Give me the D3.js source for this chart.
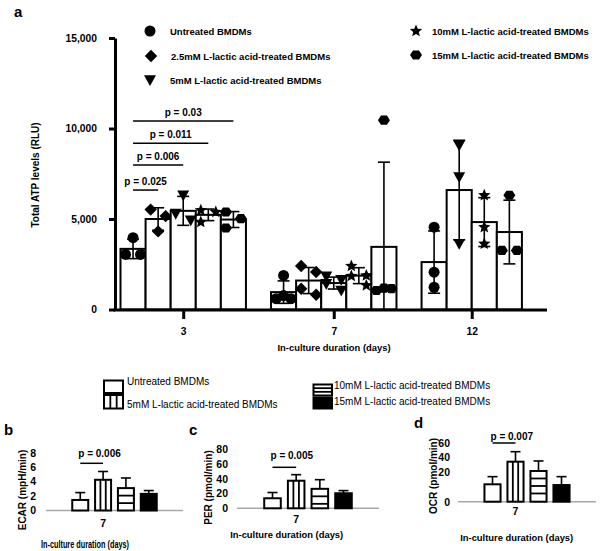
<!DOCTYPE html>
<html><head><meta charset="utf-8">
<script src="https://cdn.jsdelivr.net/npm/d3@7"></script>
<style>
body{margin:0;background:#fff}
svg{display:block}
text{font-family:"Liberation Sans", Arial, Helvetica, sans-serif;fill:#000}
</style>
</head><body>
<svg id="chart" width="600" height="551"></svg>
<script>
// ================= DATA =================
const days = ["3", "7", "12"];
const seriesKeys = ["untreated", "mM2_5", "mM5", "mM10", "mM15"];
const seriesLabels = ["Untreated BMDMs", "2.5mM L-lactic acid-treated BMDMs", "5mM L-lactic acid-treated BMDMs", "10mM L-lactic acid-treated BMDMs", "15mM L-lactic acid-treated BMDMs"];

// Total ATP (RLU) per day [3, 7, 12]
const untreatedMean = [3350, 960, 2620];
const untreatedSD = [540, 620, 1720];
const untreatedPoints = [[3970, 3040, 3040], [1880, 600, 770, 600], [4550, 2060, 1230]];
const mM2_5Mean = [5000, 1600, null];
const mM2_5SD = [620, 720, null];
const mM2_5Points = [[5520, 5160, 4316], [2400, 2070, 1150, 815], []];
const mM5Mean = [5450, 1460, 6600];
const mM5SD = [800, 330, 2750];
const mM5Points = [[6310, 5295, 4925], [1830, 1640, 1420, 1050], [9075, 7320, 3630]];
const mM10Mean = [5230, 1870, 4830];
const mM10SD = [320, 440, 1350];
const mM10Points = [[5480, 5385, 4830], [2400, 1880, 1850, 1330], [6310, 4550, 3630]];
const mM15Mean = [4970, 3460, 4280];
const mM15SD = [440, 4680, 1760];
const mM15Points = [[5385, 5020, 4500], [10460, 1050, 1180, 1150], [6310, 3265, 3265]];
const atpTicks = [0, 5000, 10000, 15000];

// significance brackets, day 3, vs untreated
const pLabels = ["p = 0.025", "p = 0.006", "p = 0.011", "p = 0.03"];
const pVs = ["mM2_5", "mM5", "mM10", "mM15"];
const pLevels = [6600, 7980, 9180, 10410];

// panels b-d (day 7)
const panelKeys = ["untreated", "mM5", "mM10", "mM15"];
const panelLegend = ["Untreated BMDMs", "5mM L-lactic acid-treated BMDMs", "10mM L-lactic acid-treated BMDMs", "15mM L-lactic acid-treated BMDMs"];
const ecarMean = [1.46, 4.25, 3.1, 2.3];
const ecarSD = [1.02, 1.15, 1.4, 0.46];
const ecarTicks = [0, 2, 4, 6, 8];
const perMean = [13.6, 37.4, 26.4, 20.4];
const perSD = [7.8, 8.2, 12.4, 3.6];
const perTicks = [0, 20, 40, 60, 80];
const ocrMean = [11.6, 33.8, 21.0, 11.1];
const ocrSD = [5.1, 13.8, 13.8, 5.6];
const ocrTicks = [0, 20, 40, 60];

// ================= SETUP =================
const svg = d3.select("#chart");
const meanBySeries = [untreatedMean, mM2_5Mean, mM5Mean, mM10Mean, mM15Mean];
const sdBySeries = [untreatedSD, mM2_5SD, mM5SD, mM10SD, mM15SD];
const ptsBySeries = [untreatedPoints, mM2_5Points, mM5Points, mM10Points, mM15Points];

// custom marker shapes (size = radius)
const shapes = {
  untreated: {draw(c, r){ c.moveTo(r, 0); c.arc(0, 0, r, 0, 2 * Math.PI); }},
  mM2_5: {draw(c, r){ c.moveTo(0, -r); c.lineTo(r, 0); c.lineTo(0, r); c.lineTo(-r, 0); c.closePath(); }},
  mM5: {draw(c, r){ c.moveTo(-r, -0.8 * r); c.lineTo(r, -0.8 * r); c.lineTo(0, r); c.closePath(); }},
  mM10: {draw(c, r){
    for (let i = 0; i < 10; i++) {
      const a = -Math.PI / 2 + i * Math.PI / 5, rr = i % 2 ? r * 0.45 : r;
      const x = rr * Math.cos(a), y = rr * Math.sin(a);
      i ? c.lineTo(x, y) : c.moveTo(x, y);
    }
    c.closePath();
  }},
  mM15: {draw(c, r){
    for (let i = 0; i < 6; i++) {
      const a = i * Math.PI / 3, x = r * Math.cos(a), y = r * Math.sin(a) * 0.88;
      i ? c.lineTo(x, y) : c.moveTo(x, y);
    }
    c.closePath();
  }}
};
const shapeR = {untreated: 5.5, mM2_5: 6.2, mM5: 6, mM10: 6.5, mM15: 6};
const sym = k => d3.symbol().type(shapes[k]).size(shapeR[k])();

// ================= PANEL A =================
const y = d3.scaleLinear().domain([0, 15000]).range([309.5, 38]);

const bars = [];
const slotDomain = [];
days.forEach((day, di) => {
  seriesKeys.forEach((k, si) => {
    const m = meanBySeries[si][di];
    if (m == null) return;
    const key = day + "|" + k;
    slotDomain.push(key);
    bars.push({day, key, series: k, mean: m, sd: sdBySeries[si][di], pts: ptsBySeries[si][di]});
  });
  slotDomain.push("gap" + di);
});
const xs = d3.scaleBand().domain(slotDomain).range([120.5, 547]).paddingInner(0).paddingOuter(0);
const bw = xs.bandwidth();

const gA = svg.append("g");
gA.selectAll("rect.bar").data(bars).join("rect")
  .attr("x", d => xs(d.key)).attr("y", d => y(d.mean))
  .attr("width", bw).attr("height", d => y(0) - y(d.mean))
  .attr("fill", "#fff").attr("stroke", "#000").attr("stroke-width", 2);

const eb = gA.selectAll("g.eb").data(bars).join("g");
eb.append("line")
  .attr("x1", d => xs(d.key) + bw / 2).attr("x2", d => xs(d.key) + bw / 2)
  .attr("y1", d => y(d.mean + d.sd)).attr("y2", d => y(Math.max(0, d.mean - d.sd)))
  .attr("stroke", "#000").attr("stroke-width", 1.6);
eb.append("line")
  .attr("x1", d => xs(d.key) + bw / 2 - 6).attr("x2", d => xs(d.key) + bw / 2 + 6)
  .attr("y1", d => y(d.mean + d.sd)).attr("y2", d => y(d.mean + d.sd))
  .attr("stroke", "#000").attr("stroke-width", 1.6);
eb.filter(d => d.mean - d.sd > 0).append("line")
  .attr("x1", d => xs(d.key) + bw / 2 - 6).attr("x2", d => xs(d.key) + bw / 2 + 6)
  .attr("y1", d => y(d.mean - d.sd)).attr("y2", d => y(d.mean - d.sd))
  .attr("stroke", "#000").attr("stroke-width", 1.6);

const dodgeD = 7.5;
function dodge(vals) {
  const offs = vals.map(() => 0);
  if (!vals.length) return offs;
  const idx = vals.map((v, i) => i).sort((a, b) => vals[b] - vals[a] || a - b);
  const clusters = [];
  let cur = [idx[0]];
  for (let k = 1; k < idx.length; k++) {
    if (y(vals[idx[k]]) - y(vals[idx[k - 1]]) < 11) cur.push(idx[k]);
    else { clusters.push(cur); cur = [idx[k]]; }
  }
  clusters.push(cur);
  clusters.forEach(c => {
    if (c.length === 1) return;
    const span = y(vals[c[c.length - 1]]) - y(vals[c[0]]);
    if (span < 5.5) {
      const s = c.slice().sort((a, b) => a - b), n = s.length;
      s.forEach((id, j) => offs[id] = (j - (n - 1) / 2) * (n === 2 ? 2 * dodgeD : dodgeD));
    } else {
      c.forEach((id, j) => offs[id] = j % 2 ? dodgeD : -dodgeD);
    }
  });
  return offs;
}
const pts = [];
bars.forEach(b => {
  const o = dodge(b.pts);
  b.pts.forEach((v, i) => pts.push({series: b.series, v, x: xs(b.key) + bw / 2 + o[i]}));
});
gA.selectAll("path.pt").data(pts).join("path")
  .attr("d", d => sym(d.series))
  .attr("transform", d => `translate(${d.x},${y(d.v)})`)
  .attr("fill", "#000");

const yAxis = d3.axisLeft(y).tickValues(atpTicks).tickFormat(d3.format(",")).tickSize(6).tickSizeOuter(0).tickPadding(12);
const gy = svg.append("g").attr("transform", "translate(115,0)").call(yAxis);
gy.select(".domain").attr("stroke-width", 3);
gy.selectAll(".tick line").attr("stroke-width", 3);
gy.selectAll(".tick text").attr("font-size", 10.3).attr("font-weight", "bold")
  .attr("font-family", '"Liberation Sans", Arial, sans-serif');

svg.append("line").attr("x1", 113.5).attr("x2", xs.range()[1]).attr("y1", y(0) + 0.5).attr("y2", y(0) + 0.5)
  .attr("stroke", "#000").attr("stroke-width", 3);

const dayCenters = days.map(day => d3.mean(bars.filter(b => b.day === day), b => xs(b.key) + bw / 2));
const xDay = d3.scaleOrdinal().domain(days).range(dayCenters);
const gx = svg.append("g").attr("transform", `translate(0,${y(0) + 0.5})`)
  .call(d3.axisBottom(xDay).tickSize(9).tickSizeOuter(0).tickPadding(9));
gx.select(".domain").remove();
gx.selectAll(".tick line").attr("stroke-width", 3);
gx.selectAll(".tick text").attr("font-size", 10.3).attr("font-weight", "bold")
  .attr("font-family", '"Liberation Sans", Arial, sans-serif');

svg.append("text").attr("x", 334).attr("y", 351).attr("text-anchor", "middle")
  .attr("font-size", 9.4).attr("font-weight", "bold").text("In-culture duration (days)");
svg.append("text").attr("transform", "translate(38.5,175) rotate(-90)").attr("text-anchor", "middle")
  .attr("font-size", 10).attr("font-weight", "bold").text("Total ATP levels (RLU)");
svg.append("text").attr("x", 14).attr("y", 17).attr("font-size", 15).attr("font-weight", "bold").text("a");

const uKey = "3|untreated";
pLabels.forEach((lab, i) => {
  const x1 = xs(uKey) + bw / 2, x2 = xs("3|" + pVs[i]) + bw / 2, yy = y(pLevels[i]);
  svg.append("line").attr("x1", x1).attr("x2", x2).attr("y1", yy).attr("y2", yy)
    .attr("stroke", "#000").attr("stroke-width", 1.5);
  svg.append("text").attr("x", (x1 + x2) / 2).attr("y", yy - 5).attr("text-anchor", "middle")
    .attr("font-size", 10).attr("font-weight", "bold").text(lab);
});

const legA = [
  {k: "untreated", x: 150, y: 31}, {k: "mM2_5", x: 151, y: 56}, {k: "mM5", x: 150, y: 80},
  {k: "mM10", x: 416, y: 31}, {k: "mM15", x: 416, y: 55}
];
legA.forEach(l => {
  svg.append("path").attr("d", sym(l.k)).attr("transform", `translate(${l.x},${l.y})`).attr("fill", "#000");
  svg.append("text").attr("x", l.x + (l.x > 300 ? 16 : 20)).attr("y", l.y + 4)
    .attr("font-size", 9.5).attr("font-weight", "bold")
    .text(seriesLabels[seriesKeys.indexOf(l.k)]);
});

// ================= LEGEND (panels b-d) =================
function patternBox(g, k, x, yy, w, h) {
  g.append("rect").attr("x", x).attr("y", yy).attr("width", w).attr("height", h)
    .attr("fill", k === "mM15" ? "#000" : "#fff").attr("stroke", "#000").attr("stroke-width", 2);
  if (k === "mM5") {
    [1, 2].forEach(j => g.append("line").attr("x1", x + w * j / 3).attr("x2", x + w * j / 3)
      .attr("y1", yy).attr("y2", yy + h).attr("stroke", "#000").attr("stroke-width", 1.8));
  }
  if (k === "mM10") {
    const step = h > 14 ? 7.5 : h / 3;
    for (let t = yy + step; t < yy + h - 2; t += step)
      g.append("line").attr("x1", x).attr("x2", x + w).attr("y1", t).attr("y2", t)
        .attr("stroke", "#000").attr("stroke-width", 1.8);
  }
}
const legB = [
  {k: "untreated", x: 104, y: 380.5, w: 19, h: 12.5, tx: 127, ty: 385},
  {k: "mM5", x: 104, y: 395, w: 19, h: 13.5, tx: 127, ty: 407.5},
  {k: "mM10", x: 313.5, y: 384.5, w: 18.5, h: 11, tx: 334, ty: 389},
  {k: "mM15", x: 313.5, y: 397.5, w: 18.5, h: 11, tx: 334, ty: 405}
];
legB.forEach(l => {
  patternBox(svg, l.k, l.x, l.y, l.w, l.h);
  svg.append("text").attr("x", l.tx).attr("y", l.ty).attr("font-size", 10)
    .text(panelLegend[panelKeys.indexOf(l.k)]);
});

// ================= PANELS b-d =================
function panel(cfg) {
  const g = svg.append("g");
  const yy = d3.scaleLinear().domain(cfg.domain).range(cfg.range);
  const xb = d3.scaleBand().domain(panelKeys).range([cfg.x0, cfg.x1]).paddingInner(0.3).paddingOuter(1.15);
  const w = xb.bandwidth();
  const data = panelKeys.map((k, i) => ({k, m: cfg.mean[i], sd: cfg.sd[i]}));
  g.append("line").attr("x1", cfg.x0).attr("x2", cfg.x1).attr("y1", yy(0)).attr("y2", yy(0))
    .attr("stroke", "#a8a8a8").attr("stroke-width", 1.5);
  data.forEach(d => {
    const cx = xb(d.k) + w / 2;
    g.append("line").attr("x1", cx).attr("x2", cx).attr("y1", yy(d.m)).attr("y2", yy(d.m + d.sd))
      .attr("stroke", "#000").attr("stroke-width", 1.6);
    g.append("line").attr("x1", cx - 5).attr("x2", cx + 5).attr("y1", yy(d.m + d.sd)).attr("y2", yy(d.m + d.sd))
      .attr("stroke", "#000").attr("stroke-width", 1.6);
  });
  data.forEach(d => patternBox(g, d.k, xb(d.k), yy(d.m), w, yy(0) - yy(d.m)));
  const ga = g.append("g").attr("transform", `translate(${cfg.x0},0)`)
    .call(d3.axisLeft(yy).tickValues(cfg.ticks).tickSize(0).tickPadding(cfg.pad));
  ga.select(".domain").remove();
  ga.selectAll("text").attr("font-size", 10.5).attr("font-weight", "bold")
    .attr("font-family", '"Liberation Sans", Arial, sans-serif');
  g.append("text").attr("x", xb("mM5") + w / 2).attr("y", cfg.dayY).attr("text-anchor", "middle")
    .attr("font-size", 10.5).attr("font-weight", "bold").text("7");
  const xl = g.append("text").attr("x", cfg.xlabX).attr("y", cfg.xlabY).attr("text-anchor", "middle")
    .attr("font-size", cfg.xlabSize).attr("font-weight", "bold").text("In-culture duration (days)");
  if (cfg.xlabLen) xl.attr("textLength", cfg.xlabLen).attr("lengthAdjust", "spacingAndGlyphs");
  g.append("text").attr("transform", `translate(${cfg.ylabX},${cfg.ylabY}) rotate(-90)`).attr("text-anchor", "middle")
    .attr("font-size", 10).attr("font-weight", "bold").text(cfg.ylab);
  const px1 = xb("untreated") + w / 2, px2 = xb("mM5") + w / 2;
  g.append("line").attr("x1", px1).attr("x2", px2).attr("y1", cfg.pY).attr("y2", cfg.pY)
    .attr("stroke", "#000").attr("stroke-width", 1.5);
  g.append("text").attr("x", px1 - 2).attr("y", cfg.pTextY).attr("font-size", 10).attr("font-weight", "bold").text(cfg.p);
  g.append("text").attr("x", cfg.letterX).attr("y", cfg.letterY).attr("font-size", 15).attr("font-weight", "bold").text(cfg.letter);
}

panel({letter: "b", letterX: 4, letterY: 435, domain: [0, 8], range: [510.5, 452.7], ticks: ecarTicks,
  mean: ecarMean, sd: ecarSD, x0: 46, x1: 183, pad: 10, dayY: 526.5, xlabX: 85, xlabY: 548, xlabSize: 10, xlabLen: 88,
  ylab: "ECAR (mpH/min)", ylabX: 25.5, ylabY: 490, p: "p = 0.006", pY: 463.3, pTextY: 456.5});
panel({letter: "c", letterX: 189, letterY: 435, domain: [0, 80], range: [508.3, 449.3], ticks: perTicks,
  mean: perMean, sd: perSD, x0: 237, x1: 379, pad: 9, dayY: 523, xlabX: 286.7, xlabY: 537.5, xlabSize: 9.4,
  ylab: "PER (pmol/min)", ylabX: 211.5, ylabY: 487.5, p: "p = 0.005", pY: 467.3, pTextY: 459});
panel({letter: "d", letterX: 414, letterY: 428, domain: [0, 20, 60], range: [501.7, 471.7, 442.7], ticks: ocrTicks,
  mean: ocrMean, sd: ocrSD, x0: 458, x1: 596, pad: 8, dayY: 515, xlabX: 516.7, xlabY: 541, xlabSize: 9.4,
  ylab: "OCR (pmol/min)", ylabX: 437, ylabY: 476, p: "p = 0.007", pY: 443, pTextY: 439.5});
</script>
</body></html>
